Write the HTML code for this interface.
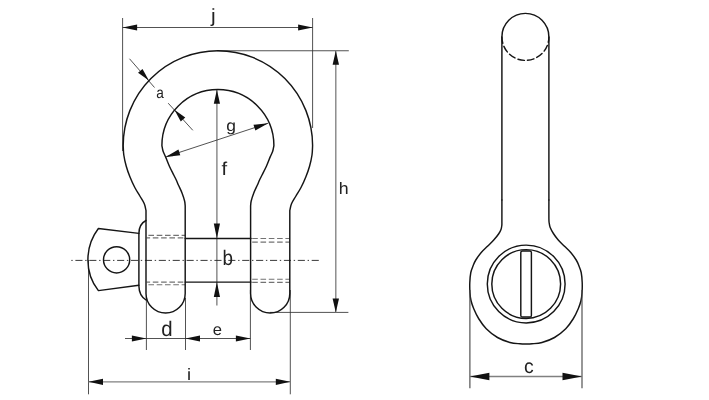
<!DOCTYPE html>
<html lang="en"><head><meta charset="utf-8"><title>Bow shackle dimensions</title>
<style>html,body{margin:0;padding:0;background:#fff}svg{display:block;will-change:transform}</style></head>
<body>
<svg width="709" height="400" viewBox="0 0 709 400">
<style>
.o{fill:none;stroke:#151515;stroke-width:1.45;stroke-linejoin:round;stroke-linecap:round}
.d{fill:none;stroke:#333;stroke-width:0.85}
.dg{fill:none;stroke:#808080;stroke-width:1.35}
.h{fill:none;stroke:#737373;stroke-width:1.15;stroke-dasharray:5.6 2.7}
.c{fill:none;stroke:#222;stroke-width:0.9;stroke-dasharray:1.4 2.7 7.1 2.7}
.ar{fill:#111;stroke:none}
text{font-family:"Liberation Sans",sans-serif;fill:#222;text-rendering:geometricPrecision}
</style>
<rect width="709" height="400" fill="#fff"/>
<path class="d" d="M122.6 18 V151 M312.6 18 V128 M122.6 27.5 H312.6"/>
<polygon class="ar" points="122.60,27.50 137.10,24.40 137.10,30.60"/>
<polygon class="ar" points="312.60,27.50 298.10,30.60 298.10,24.40"/>
<path class="d" d="M217 50.75 H348.8 M270 312.4 H348.4"/>
<path class="dg" d="M335.8 50.75 V312.4"/>
<polygon class="ar" points="335.80,50.75 339.00,64.75 332.60,64.75"/>
<polygon class="ar" points="335.80,312.40 332.60,298.40 339.00,298.40"/>
<path class="dg" d="M216.9 89.75 V238.4"/>
<path class="d" d="M216.9 238.4 V305.5"/>
<polygon class="ar" points="216.90,89.75 220.00,103.75 213.80,103.75"/>
<polygon class="ar" points="216.90,238.40 213.80,223.40 220.00,223.40"/>
<polygon class="ar" points="216.90,282.10 220.00,297.10 213.80,297.10"/>
<path class="d" d="M165.60 156.90 L268.20 123.20"/>
<polygon class="ar" points="268.20,123.20 255.36,130.58 253.49,124.87"/>
<polygon class="ar" points="165.60,156.90 178.44,149.52 180.31,155.23"/>
<path class="d" d="M129.5 58.75 L154.5 87.5 M168.2 103.2 L192.8 130.3"/>
<polygon class="ar" points="148.90,80.60 138.04,72.85 142.53,68.88"/>
<polygon class="ar" points="174.40,109.75 185.26,117.50 180.77,121.47"/>
<path class="d" d="M146.4 298 V350 M185.5 298 V350 M250.4 290 V350 M125 338.5 H250.4"/>
<polygon class="ar" points="146.40,338.50 131.90,341.60 131.90,335.40"/>
<polygon class="ar" points="185.50,338.50 200.00,335.40 200.00,341.60"/>
<polygon class="ar" points="250.40,338.50 235.90,341.60 235.90,335.40"/>
<path class="d" d="M88.5 260 V394.3 M290.3 290 V394.3"/>
<path class="dg" d="M88.5 381.8 H290.3"/>
<polygon class="ar" points="88.50,381.80 103.00,378.70 103.00,384.90"/>
<polygon class="ar" points="290.30,381.80 275.80,384.90 275.80,378.70"/>
<path class="c" d="M71.3 260.4 H318.8"/>
<path class="h" d="M148.4 235.3 H185 M148.4 284.7 H185"/>
<path class="h" style="stroke-dashoffset:2.1" d="M146.6 237.9 H185 M146.6 282.1 H185"/>
<path class="h" d="M252.2 238.5 H289.5 M252.2 242.1 H289.5 M252.2 279.2 H289.5 M252.2 282.3 H289.5"/>
<path class="o" d="M146.00 293.40 L146.00 210.50 C145.72 209.38 145.30 206.18 144.30 203.80 C143.30 201.43 141.58 198.97 140.00 196.25 C138.42 193.53 136.47 190.71 134.80 187.50 C133.13 184.29 131.43 180.54 130.00 177.00 C128.57 173.46 127.28 169.92 126.25 166.25 C125.22 162.58 124.31 158.46 123.80 155.00 C123.29 151.54 123.30 147.08 123.20 145.50 A94.70 94.70 0 0 1 312.60 145.50 C312.50 147.08 312.51 151.54 312.00 155.00 C311.49 158.46 310.58 162.58 309.55 166.25 C308.52 169.92 307.23 173.46 305.80 177.00 C304.38 180.54 302.67 184.29 301.00 187.50 C299.33 190.71 297.38 193.53 295.80 196.25 C294.22 198.97 292.50 201.43 291.50 203.80 C290.50 206.18 290.08 209.38 289.80 210.50 L289.80 293.40 A19.60 19.60 0 0 1 250.60 293.40 L250.60 206.00 C250.70 205.17 250.70 203.10 251.20 201.00 C251.70 198.90 252.57 196.07 253.60 193.40 C254.63 190.73 256.41 187.23 257.40 185.00 C258.39 182.77 258.77 181.67 259.55 180.00 C260.33 178.33 260.91 177.29 262.05 175.00 C263.19 172.71 265.04 169.27 266.40 166.25 C267.76 163.23 269.15 159.40 270.20 156.90 C271.25 154.40 272.08 153.15 272.70 151.25 C273.32 149.35 273.70 146.46 273.90 145.50 A56.00 56.00 0 0 0 161.90 145.50 C162.10 146.46 162.48 149.35 163.10 151.25 C163.72 153.15 164.55 154.40 165.60 156.90 C166.65 159.40 168.04 163.23 169.40 166.25 C170.76 169.27 172.61 172.71 173.75 175.00 C174.89 177.29 175.47 178.33 176.25 180.00 C177.03 181.67 177.41 182.77 178.40 185.00 C179.39 187.23 181.17 190.73 182.20 193.40 C183.23 196.07 184.10 198.90 184.60 201.00 C185.10 203.10 185.10 205.17 185.20 206.00 L185.20 293.40 A19.60 19.60 0 0 1 146.00 293.40 Z"/>
<path class="o" d="M185.2 238.4 H251 M185.2 282.1 H251"/>
<path class="o" d="M146 220.5 C142 222.5 139 227 138.9 233.4 V286 C139 292.5 142 297.5 146 300"/>
<path class="o" d="M138.9 233.4 L98.4 228.5 C91.5 237.5 87.9 248 87.9 260 C87.9 271.5 91.5 282 98.4 290.6 L138.9 285.3"/>
<circle class="o" cx="116.6" cy="259.8" r="13.1"/>
<path class="o" d="M501.9 200 V36.9 A23.5 23.5 0 0 1 548.9 36.9 V200"/>
<path class="o" style="stroke-dasharray:6.5 3.2" d="M501.9 36.9 A23.5 23.5 0 0 0 548.9 36.9"/>
<path class="o" d="M501.90 200.00 C501.90 203.50 501.92 216.75 501.90 221.00 C501.88 225.25 501.95 224.10 501.80 225.50 C501.65 226.90 501.51 228.03 501.00 229.40 C500.49 230.78 499.96 231.98 498.75 233.75 C497.54 235.52 495.62 237.92 493.75 240.00 C491.88 242.08 489.58 244.17 487.50 246.25 C485.42 248.33 483.20 250.21 481.25 252.50 C479.30 254.79 477.14 257.83 475.80 260.00 C474.46 262.17 474.03 263.42 473.20 265.50 C472.37 267.58 471.37 269.67 470.80 272.50 C470.23 275.33 469.94 279.17 469.80 282.50 C469.66 285.83 469.75 289.50 469.95 292.50 C470.15 295.50 470.37 297.79 471.00 300.50 C471.63 303.21 472.46 305.71 473.75 308.75 C475.04 311.79 476.67 315.42 478.75 318.75 C480.83 322.08 483.12 325.62 486.25 328.75 C489.38 331.88 493.54 335.21 497.50 337.50 C501.46 339.79 506.25 341.45 510.00 342.50 C513.75 343.55 517.33 343.55 520.00 343.80 C522.67 344.05 524.00 344.00 526.00 344.00 C528.00 344.00 529.33 344.05 532.00 343.80 C534.67 343.55 538.25 343.55 542.00 342.50 C545.75 341.45 550.54 339.79 554.50 337.50 C558.46 335.21 562.62 331.88 565.75 328.75 C568.88 325.62 571.17 322.08 573.25 318.75 C575.33 315.42 576.96 311.79 578.25 308.75 C579.54 305.71 580.37 303.21 581.00 300.50 C581.63 297.79 581.85 295.50 582.05 292.50 C582.25 289.50 582.34 285.83 582.20 282.50 C582.06 279.17 581.77 275.33 581.20 272.50 C580.63 269.67 579.63 267.58 578.80 265.50 C577.97 263.42 577.54 262.17 576.20 260.00 C574.86 257.83 572.70 254.79 570.75 252.50 C568.80 250.21 566.58 248.33 564.50 246.25 C562.42 244.17 560.10 242.12 558.25 240.00 C556.40 237.88 554.74 235.58 553.40 233.50 C552.06 231.42 550.90 229.25 550.20 227.50 C549.50 225.75 549.42 224.50 549.20 223.00 C548.98 221.50 548.95 222.33 548.90 218.50 C548.85 214.67 548.90 203.08 548.90 200.00"/>
<circle class="o" cx="526.2" cy="284.0" r="38.9"/>
<circle class="o" cx="526.2" cy="284.0" r="34.4"/>
<rect class="o" x="520.8" y="250.9" width="10.6" height="66.2" rx="1.6"/>
<path class="d" style="stroke-width:1.1;stroke:#444" d="M469.9 290 V388.2 M582.0 290 V388.2"/>
<path class="dg" style="stroke-width:1.3" d="M469.9 376.5 H582"/>
<polygon class="ar" points="469.90,376.50 489.40,372.80 489.40,380.20"/>
<polygon class="ar" points="582.00,376.50 562.50,380.20 562.50,372.80"/>
<text transform="translate(211.08 21.93) scale(1.100 1)" font-size="19.08" text-anchor="start">j</text>
<text transform="translate(156.13 97.84) scale(0.868 1)" font-size="15.69" text-anchor="start">a</text>
<text transform="translate(226.17 130.65) scale(1.083 1)" font-size="16.11" text-anchor="start">g</text>
<text transform="translate(221.46 174.90) scale(1.093 1)" font-size="18.65" text-anchor="start">f</text>
<text transform="translate(338.77 194.10) scale(1.074 1)" font-size="16.55" text-anchor="start">h</text>
<text transform="translate(222.43 265.29) scale(0.887 1)" font-size="21.22" text-anchor="start">b</text>
<text transform="translate(161.34 335.99) scale(0.963 1)" font-size="21.22" text-anchor="start">d</text>
<text transform="translate(212.80 334.59) scale(1.028 1)" font-size="16.15" text-anchor="start">e</text>
<text transform="translate(186.95 379.90) scale(1.100 1)" font-size="16.55" text-anchor="start">i</text>
<text transform="translate(523.93 372.80) scale(0.978 1)" font-size="19.89" text-anchor="start">c</text>
</svg>
</body></html>
